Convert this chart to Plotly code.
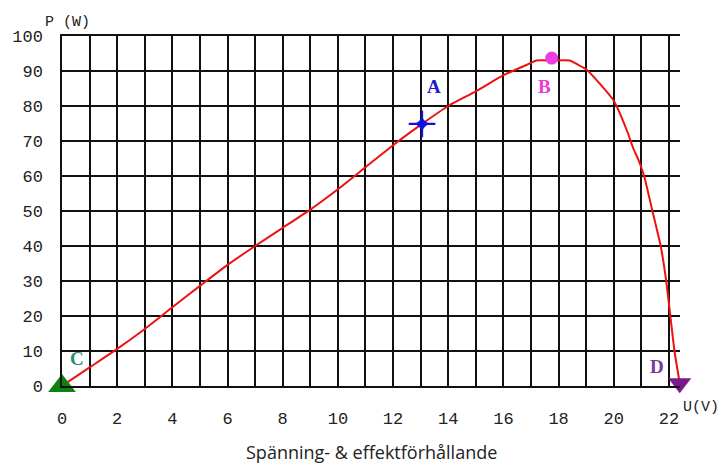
import plotly.graph_objects as go

# Curve data
U = [0, 1, 2, 3, 4, 5, 6, 7, 8, 9, 10, 11, 12, 13, 14, 15, 16, 17, 17.2, 17.8,
     18.4, 18.7, 19, 19.5, 20, 20.5, 20.7, 20.9, 21.1, 21.4, 21.7, 21.9, 22.05, 22.2, 22.39]
P = [0, 5.3, 10.6, 16.3, 22.5, 28.6, 34.6, 40, 45.2, 50.4, 56.2, 62.5, 68.8, 74.6, 80, 84.2, 88.8, 92.3, 93, 93,
     93, 91.8, 90.5, 86.3, 81.5, 72.5, 68, 64.5, 60, 50, 40, 30, 20, 10, 0.8]

# Labelled points
point_names = ["A", "B", "C", "D"]
point_u = [13.05, 17.75, 0, 22.39]
point_p = [74.9, 93.7, 0, 0.8]

x_ticks = list(range(0, 23))
x_ticktext = [str(v) if v % 2 == 0 else "" for v in x_ticks]
y_ticks = list(range(0, 101, 10))

title_text = "Spänning- & effektförhållande"
x_label = "U(V)"
y_label = "P (W)"

tick_font = dict(family="Liberation Mono", size=17, color="#222")
serif_bold = "Liberation Serif"
grid_col = "#111"
grid_w = 1.5

fig = go.Figure()
fig.add_trace(go.Scatter(x=U, y=P, mode="lines",
                         line=dict(color="#ee1111", width=2, shape="spline", smoothing=0.5),
                         hoverinfo="skip", showlegend=False, cliponaxis=False))

marker_styles = {
    "B": dict(symbol="circle", size=13, color="#f03ce6"),
    "C": dict(symbol="triangle-up", size=24, color="#108010"),
    "D": dict(symbol="triangle-down", size=20, color="#7a1a88"),
}
for name, u, p in zip(point_names, point_u, point_p):
    if name == "A":
        fig.add_trace(go.Scatter(x=[u], y=[p], mode="markers",
                                 marker=dict(symbol="cross-thin-open", size=19, color="#1010e0",
                                             line=dict(color="#1010e0", width=2.2)),
                                 showlegend=False, cliponaxis=False))
        fig.add_trace(go.Scatter(x=[u], y=[p], mode="markers",
                                 marker=dict(symbol="star-diamond", size=12, color="#1010e0"),
                                 showlegend=False, cliponaxis=False))
    else:
        fig.add_trace(go.Scatter(x=[u], y=[p], mode="markers", marker=marker_styles[name],
                                 showlegend=False, cliponaxis=False))

label_colors = {"A": "#1c1ccc", "B": "#e83ad8", "C": "#2e8a78", "D": "#7b3a94"}
label_offsets = {"A": (12, 37), "B": (-7, -28), "C": (15, 28), "D": (-23, 17)}  # pixel offsets
for name, u, p in zip(point_names, point_u, point_p):
    dx, dy = label_offsets[name]
    fig.add_annotation(x=u, y=p, xref="x", yref="y", text=f"<b>{name}</b>",
                       showarrow=False, xshift=dx, yshift=dy,
                       font=dict(family=serif_bold, size=19, color=label_colors[name]))

fig.add_annotation(x=1.0, y=-0.06, xref="paper", yref="paper", text=x_label,
                   showarrow=False, xanchor="left", yanchor="middle", xshift=1,
                   font=dict(family="Liberation Mono", size=15, color="#222"))
fig.add_annotation(x=-0.03, y=1.0, xref="paper", yref="paper", text=y_label,
                   showarrow=False, xanchor="left", yanchor="bottom", yshift=3,
                   font=dict(family="Liberation Mono", size=15, color="#222"))
fig.add_annotation(x=0.5, y=-0.189, xref="paper", yref="paper", text=title_text,
                   showarrow=False, xanchor="center", yanchor="middle",
                   font=dict(family="Open Sans", size=18, color="#222"))

fig.update_xaxes(range=[0, 22.4], tickvals=x_ticks, ticktext=x_ticktext,
                 showgrid=True, gridcolor=grid_col, gridwidth=grid_w,
                 zeroline=False, showline=True, mirror=True, linecolor=grid_col, linewidth=grid_w,
                 ticks="", tickfont=tick_font, ticklabelstandoff=16, automargin=False)
fig.update_yaxes(range=[0, 100], tickvals=y_ticks,
                 showgrid=True, gridcolor=grid_col, gridwidth=grid_w,
                 zeroline=False, showline=True, mirror=False, linecolor=grid_col, linewidth=grid_w,
                 ticks="", tickfont=tick_font, ticklabelstandoff=14, automargin=False)

fig.update_layout(width=724, height=465, margin=dict(l=62, r=44, t=36, b=79),
                  plot_bgcolor="white", paper_bgcolor="white")

fig.write_html("out.html", config={"displayModeBar": False},
               post_script="document.body.style.margin='0';document.body.style.overflow='hidden';")
